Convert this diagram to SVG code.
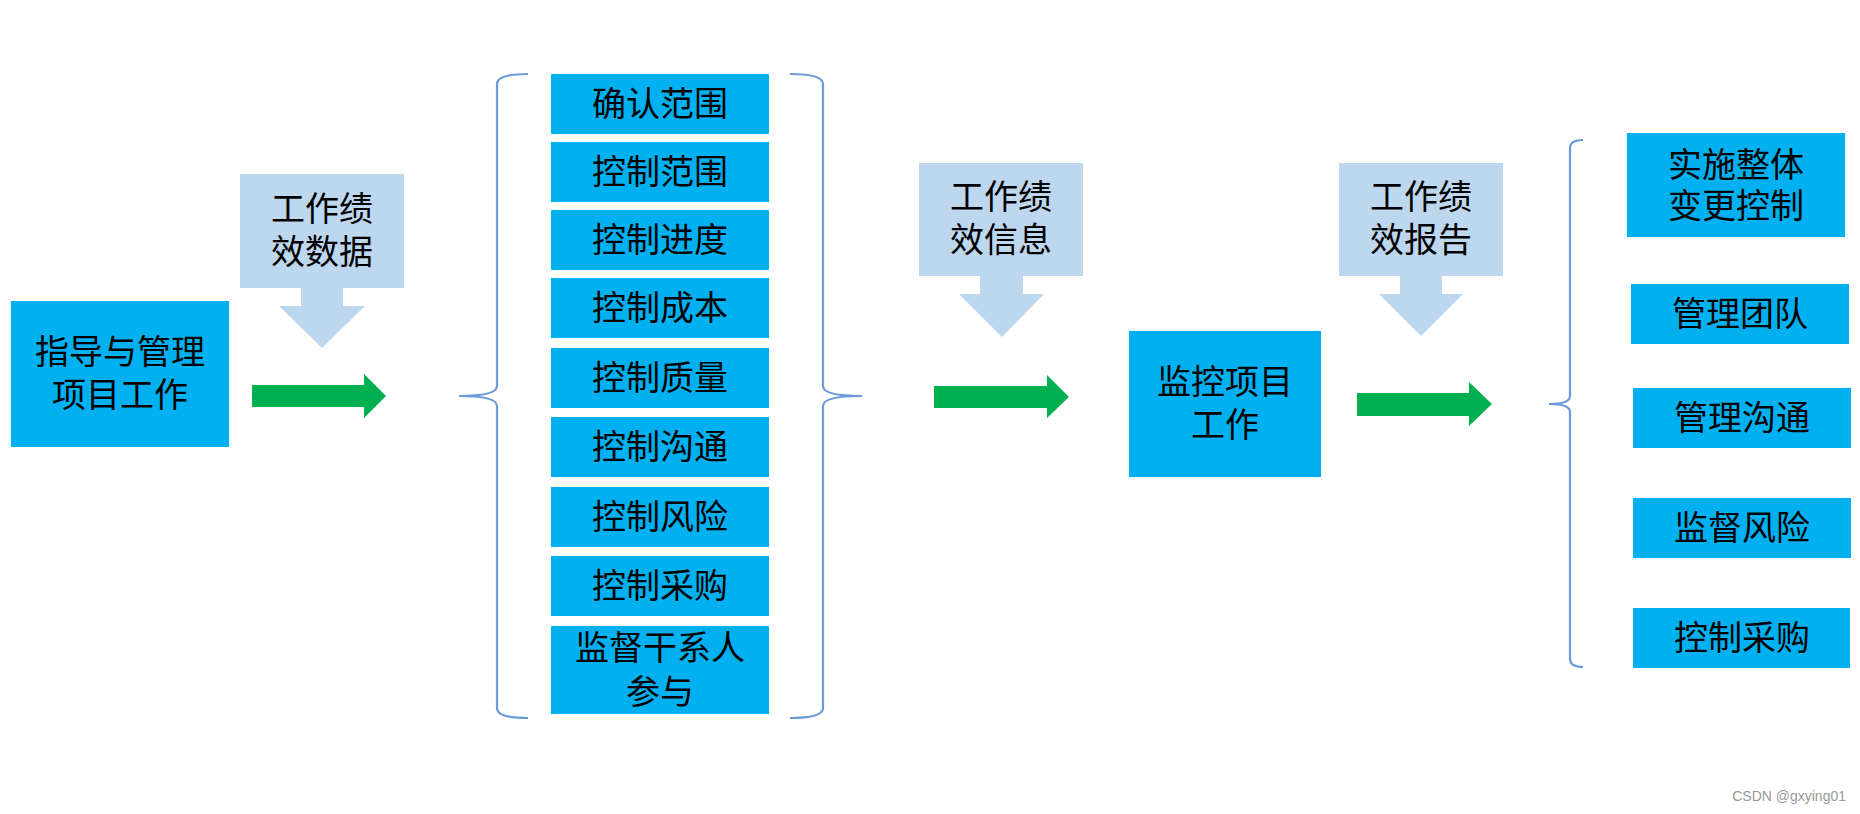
<svg xmlns="http://www.w3.org/2000/svg" width="1860" height="814" viewBox="0 0 1860 814">
<style>
.n{fill:#00B0F0}
.d{fill:#BDD7EE}
.g{fill:#00B050}
.br{fill:none;stroke:#6A9BD8;stroke-width:2.2}
text{font-family:"Liberation Serif","Noto Sans CJK SC",serif;font-size:34px;fill:#000;text-anchor:middle;dominant-baseline:central}
.wm{font-family:"Liberation Sans","Noto Sans CJK SC",sans-serif;font-size:14px;fill:#999;text-anchor:end;dominant-baseline:auto}
</style>
<rect width="1860" height="814" fill="#fff"/>
<g id="connectors">
<path class="g" d="M252,385 H364 V374 L386,396 L364,418 V407 H252 Z"/>
<path class="g" d="M934,386 H1047 V375 L1069,397 L1047,418 V408 H934 Z"/>
<path class="g" d="M1357,393 H1469 V382 L1492,404 L1469,426 V416 H1357 Z"/>
<path class="br" d="M528,74 Q497,74 497,84 L497,386 Q497,396 459,396 Q497,396 497,406 L497,708 Q497,718 528,718"/>
<path class="br" d="M790,74 Q823,74 823,84 L823,386 Q823,396 862,396 Q823,396 823,406 L823,708 Q823,718 790,718"/>
<path class="br" d="M1583,140 Q1570,140 1570,148 L1570,396 Q1570,404 1549,404 Q1570,404 1570,412 L1570,659 Q1570,667 1583,667"/>
</g>
<g id="n-direct"><rect class="n" x="11" y="301" width="218" height="146"/><text x="120" y="352">指导与管理</text><text x="120" y="395">项目工作</text></g>
<g id="d-data"><path class="d" d="M240,174 H404 V288 H343 V306 H365 L322,348 L279,306 H301 V288 H240 Z"/><text x="322" y="209">工作绩</text><text x="322" y="252">效数据</text></g>
<g id="c1"><rect class="n" x="551" y="74" width="218" height="60"/><text x="660" y="104">确认范围</text></g>
<g id="c2"><rect class="n" x="551" y="142" width="218" height="60"/><text x="660" y="172">控制范围</text></g>
<g id="c3"><rect class="n" x="551" y="210" width="218" height="60"/><text x="660" y="240">控制进度</text></g>
<g id="c4"><rect class="n" x="551" y="278" width="218" height="60"/><text x="660" y="308">控制成本</text></g>
<g id="c5"><rect class="n" x="551" y="348" width="218" height="60"/><text x="660" y="378">控制质量</text></g>
<g id="c6"><rect class="n" x="551" y="417" width="218" height="60"/><text x="660" y="447">控制沟通</text></g>
<g id="c7"><rect class="n" x="551" y="487" width="218" height="60"/><text x="660" y="517">控制风险</text></g>
<g id="c8"><rect class="n" x="551" y="556" width="218" height="60"/><text x="660" y="586">控制采购</text></g>
<g id="c9"><rect class="n" x="551" y="626" width="218" height="88"/><text x="660" y="648">监督干系人</text><text x="660" y="692">参与</text></g>
<g id="d-info"><path class="d" d="M919,163 H1083 V276 H1023 V294 H1044 L1002,337 L959,294 H980 V276 H919 Z"/><text x="1001" y="197">工作绩</text><text x="1001" y="240">效信息</text></g>
<g id="n-monitor"><rect class="n" x="1129" y="331" width="192" height="146"/><text x="1225" y="382">监控项目</text><text x="1225" y="425">工作</text></g>
<g id="d-report"><path class="d" d="M1339,163 H1503 V276 H1442 V294 H1463 L1421,336 L1379,294 H1400 V276 H1339 Z"/><text x="1421" y="197">工作绩</text><text x="1421" y="240">效报告</text></g>
<g id="r1"><rect class="n" x="1627" y="133" width="218" height="104"/><text x="1736" y="165">实施整体</text><text x="1736" y="206">变更控制</text></g>
<g id="r2"><rect class="n" x="1631" y="284" width="218" height="60"/><text x="1740" y="314">管理团队</text></g>
<g id="r3"><rect class="n" x="1633" y="388" width="218" height="60"/><text x="1742" y="418">管理沟通</text></g>
<g id="r4"><rect class="n" x="1633" y="498" width="218" height="60"/><text x="1742" y="528">监督风险</text></g>
<g id="r5"><rect class="n" x="1633" y="608" width="217" height="60"/><text x="1742" y="638">控制采购</text></g>
<text class="wm" x="1846" y="801">CSDN @gxying01</text>
</svg>
